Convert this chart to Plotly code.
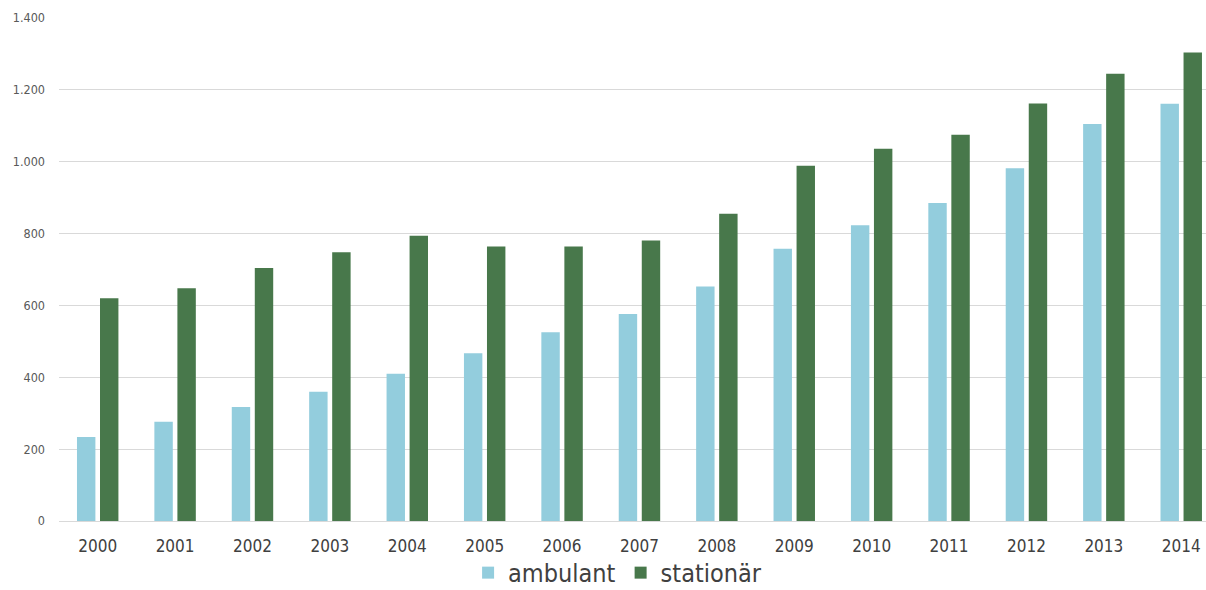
import plotly.graph_objects as go

years = ["2000", "2001", "2002", "2003", "2004", "2005", "2006", "2007",
         "2008", "2009", "2010", "2011", "2012", "2013", "2014"]
ambulant = [234, 276, 317, 360, 410, 467, 525, 576, 653, 758, 823, 885, 982, 1105, 1161]
stationaer = [620, 648, 704, 748, 794, 764, 764, 781, 855, 989, 1036, 1075, 1162, 1245, 1304]
y_ticks = [0, 200, 400, 600, 800, 1000, 1200, 1400]

fig = go.Figure()
fig.add_trace(go.Bar(x=years, y=ambulant, name="ambulant",
                     marker=dict(color="#93CDDD", line=dict(width=0))))
fig.add_trace(go.Bar(x=years, y=stationaer, name="stationär",
                     marker=dict(color="#48784B", line=dict(width=0))))

fig.update_layout(
    width=1206, height=590,
    margin=dict(l=59, r=0, t=18, b=69, autoexpand=False),
    paper_bgcolor="white", plot_bgcolor="white",
    barmode="group", bargap=0.405, bargroupgap=0.2,
    separators=",.",
    font=dict(family="DejaVu Sans Condensed, DejaVu Sans, sans-serif"),
    showlegend=True,
    legend=dict(orientation="h", x=0.487, xanchor="center",
                yref="container", y=0.029, yanchor="middle",
                bgcolor="rgba(0,0,0,0)",
                font=dict(size=25, color="#404040"), traceorder="normal",
                itemsizing="constant"),
    xaxis=dict(range=[-0.5, 14.32], showgrid=False, showline=False, ticks="",
               tickfont=dict(size=17, color="#404040"), ticklabelstandoff=13),
    yaxis=dict(range=[0, 1400], tickvals=y_ticks, tickformat=",d",
               showgrid=True, gridcolor="#D9D9D9", gridwidth=1.2,
               zeroline=True, zerolinecolor="#D9D9D9", zerolinewidth=1.2,
               tickfont=dict(size=12.5, color="#595959"), ticklabelstandoff=13),
)

fig.write_html("out.html")
